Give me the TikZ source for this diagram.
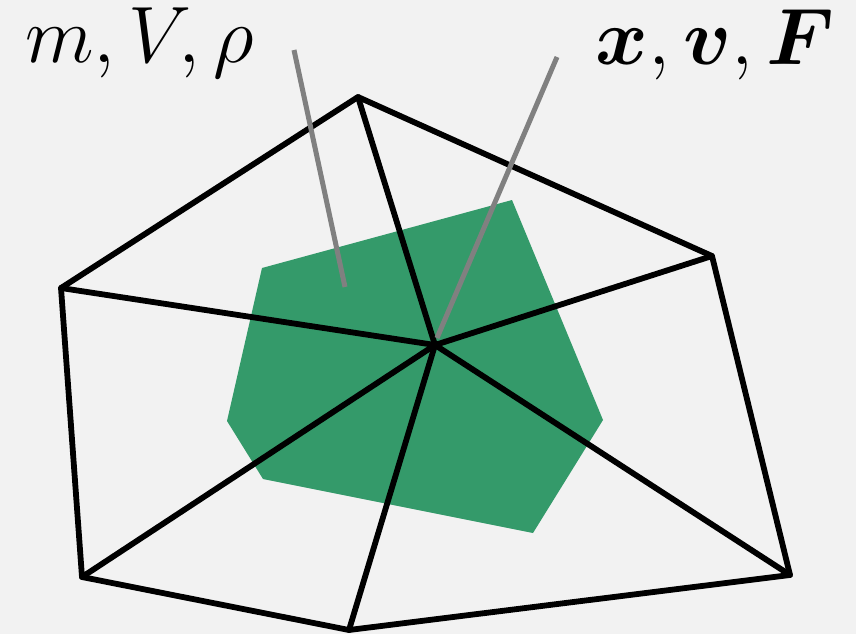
\RequirePackage{fix-cm}
\documentclass[tikz,border=0pt]{standalone}
\usepackage{amsmath}
\definecolor{bgc}{HTML}{F2F2F2}
\definecolor{cellg}{RGB}{52,154,106}
\definecolor{leader}{RGB}{128,128,128}
\begin{document}
\begin{tikzpicture}[x=1pt,y=-1pt,
  mesh/.style={line width=5.8pt,black,line join=round,line cap=round},
  lead/.style={line width=5pt,leader},
  lbl/.style={inner sep=0pt,font=\fontsize{80}{90}\selectfont}]
\fill[bgc] (0,0) rectangle (856,634);
\useasboundingbox (0,0) rectangle (856,634);
% vertices
\coordinate (C) at (435,345);
\coordinate (A) at (358,97);
\coordinate (B) at (712,256);
\coordinate (D) at (790,575);
\coordinate (E) at (349,630);
\coordinate (F) at (82,577);
\coordinate (G) at (61,288);
% dual cell
\fill[cellg] (262,268) -- (512,200) -- (603,420) -- (533,533) -- (263,479) -- (227,421) -- cycle;
% mesh
\draw[mesh] (A) -- (B) -- (D) -- (E) -- (F) -- (G) -- cycle;
\foreach \v in {A,B,D,E,F,G} \draw[mesh] (C) -- (\v);
% leaders
\coordinate (L1a) at (294,50);
\coordinate (L1b) at (345,287);
\coordinate (L2a) at (557,57);
\coordinate (L2b) at (437,338);
\draw[lead] (L1a) -- (L1b);
\draw[lead] (L2a) -- (L2b);
% labels
\node[lbl,anchor=base west] (t1) at (25,63) {$m,V,\rho$};
\node[lbl,anchor=base east] (t2) at (835,65) {$\boldsymbol{x},\boldsymbol{v},\boldsymbol{F}$};
\end{tikzpicture}
\end{document}
